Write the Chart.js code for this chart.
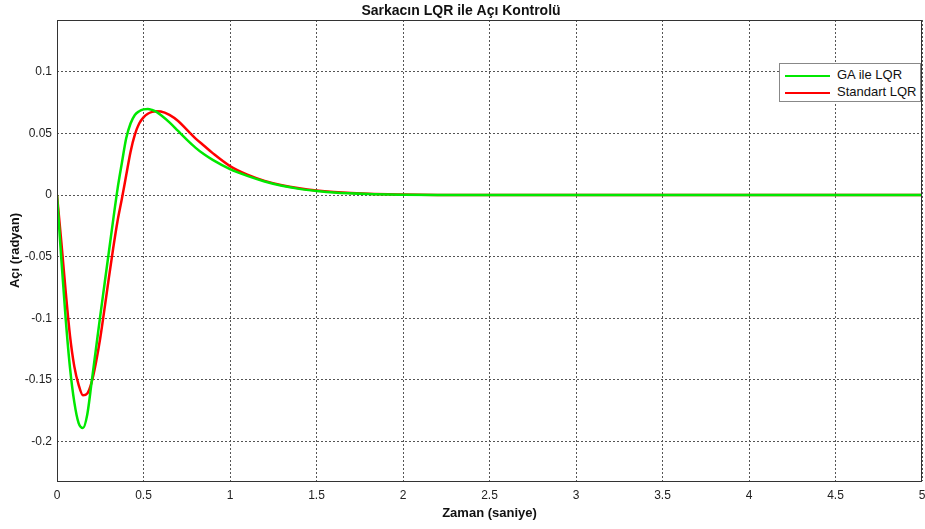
<!DOCTYPE html>
<html>
<head>
<meta charset="utf-8">
<script src="https://cdn.jsdelivr.net/npm/chart.js@4.4.1/dist/chart.umd.min.js"></script>
<style>
  html, body { margin: 0; padding: 0; background: #fff; }
  #wrap { position: relative; width: 925px; height: 529px; }
  #legend {
    position: absolute; left: 779px; top: 63px; width: 140px; height: 37px;
    border: 1px solid #888; background: #fff;
    font: 13px "Liberation Sans", Arial, sans-serif; color: #111;
  }
  #legend div { position: absolute; left: 5px; height: 16px; line-height: 16px; white-space: nowrap; }
  #legend span.swatch { display: inline-block; width: 45px; height: 0; border-top: 2.5px solid; vertical-align: middle; margin-right: 7px; }
</style>
</head>
<body>
<div id="wrap">
  <canvas id="chart" width="925" height="529"></canvas>
  <div id="legend"></div>
</div>
<script>
const chartTitle = "Sarkacın LQR ile Açı Kontrolü";
const xTitle = "Zaman (saniye)";
const yTitle = "Açı (radyan)";

const seriesNames = ["GA ile LQR", "Standart LQR"];
const seriesColors = ["#00e800", "#ff0000"];

const time = [0, 0.025, 0.05, 0.075, 0.1, 0.125, 0.15, 0.175, 0.2, 0.225, 0.25, 0.275, 0.3, 0.325, 0.35, 0.375,
  0.4, 0.425, 0.45, 0.475, 0.5, 0.525, 0.55, 0.575, 0.6, 0.65, 0.7, 0.75, 0.8, 0.85, 0.9, 1.0, 1.1, 1.2, 1.3,
  1.4, 1.5, 1.6, 1.8, 2.0, 2.2, 2.5, 3, 4, 5];

const gaLqr = [0, -0.052, -0.1, -0.14, -0.168, -0.185, -0.189, -0.178, -0.152, -0.125, -0.098, -0.072, -0.046,
  -0.02, 0.005, 0.026, 0.046, 0.058, 0.065, 0.068, 0.0695, 0.0698, 0.069, 0.0675, 0.065, 0.059, 0.052, 0.045,
  0.0385, 0.033, 0.0285, 0.021, 0.0155, 0.011, 0.0075, 0.005, 0.0033, 0.002, 0.0008, 0.0003, 0.0001, 0, 0, 0, 0];

const stdLqr = [0, -0.038, -0.078, -0.114, -0.139, -0.154, -0.1625, -0.161, -0.152, -0.136, -0.116, -0.092, -0.067,
  -0.043, -0.021, -0.003, 0.016, 0.035, 0.049, 0.058, 0.063, 0.066, 0.0675, 0.068, 0.0678, 0.065, 0.06, 0.053,
  0.046, 0.04, 0.034, 0.0235, 0.0165, 0.0115, 0.008, 0.0055, 0.0037, 0.0025, 0.001, 0.0004, 0.0001, 0, 0, 0, 0];

const xTicks = [0, 0.5, 1, 1.5, 2, 2.5, 3, 3.5, 4, 4.5, 5];
const xTickLabels = ["0", "0.5", "1", "1.5", "2", "2.5", "3", "3.5", "4", "4.5", "5"];
const yTicks = [-0.2, -0.15, -0.1, -0.05, 0, 0.05, 0.1];
const yTickLabels = ["-0.2", "-0.15", "-0.1", "-0.05", "0", "0.05", "0.1"];

Chart.defaults.font.family = '"Liberation Sans", Arial, sans-serif';
Chart.defaults.color = "#222";

const toPoints = (values) => time.map((t, i) => ({ x: t, y: values[i] }));

const frame = {
  id: "frame",
  afterDatasetsDraw(chart) {
    const { ctx, chartArea: a } = chart;
    ctx.save();
    ctx.strokeStyle = "#333";
    ctx.lineWidth = 1;
    ctx.strokeRect(a.left + 0.5, a.top + 0.5, a.right - a.left - 1, a.bottom - a.top);
    ctx.restore();
  }
};

const gridStyle = { color: "#555", lineWidth: 1, drawTicks: false };
const borderStyle = { display: false, dash: [2, 2] };

new Chart(document.getElementById("chart"), {
  type: "line",
  data: {
    datasets: [
      { label: seriesNames[0], data: toPoints(gaLqr), borderColor: seriesColors[0], borderWidth: 2.5, pointRadius: 0, cubicInterpolationMode: "monotone" },
      { label: seriesNames[1], data: toPoints(stdLqr), borderColor: seriesColors[1], borderWidth: 2.5, pointRadius: 0, cubicInterpolationMode: "monotone" }
    ]
  },
  options: {
    responsive: false,
    animation: false,
    layout: { padding: { left: 0, right: 3, top: 0, bottom: 0 } },
    plugins: {
      legend: { display: false },
      tooltip: { enabled: false },
      title: {
        display: true, text: chartTitle, color: "#111",
        font: { size: 14, weight: "bold", lineHeight: 1 }, padding: { top: 4, bottom: 2 }
      }
    },
    scales: {
      x: {
        type: "linear", min: 0, max: 5,
        border: { ...borderStyle },
        grid: { ...gridStyle },
        afterBuildTicks: (scale) => { scale.ticks = xTicks.map((v) => ({ value: v })); },
        afterFit: (scale) => { scale.height = 48; scale.paddingLeft = 0; scale.paddingRight = 0; },
        ticks: {
          padding: 7, maxRotation: 0,
          font: { family: '"Liberation Sans Narrow", "Liberation Sans", Arial', size: 12 },
          callback: (v) => xTickLabels[xTicks.indexOf(v)]
        },
        title: { display: true, text: xTitle, color: "#111", font: { size: 13, weight: "bold" }, padding: { top: 4, bottom: 8 } }
      },
      y: {
        type: "linear", min: -0.232, max: 0.142,
        border: { ...borderStyle },
        grid: { ...gridStyle },
        afterBuildTicks: (scale) => { scale.ticks = yTicks.map((v) => ({ value: v })); },
        afterFit: (scale) => { scale.width = 57; },
        ticks: {
          padding: 5, font: { size: 12 },
          callback: (v) => yTickLabels[yTicks.findIndex((t) => Math.abs(t - v) < 1e-9)]
        },
        title: { display: true, text: yTitle, color: "#111", font: { size: 13, weight: "bold" }, padding: { top: 8, bottom: 2 } }
      }
    }
  },
  plugins: [frame]
});

document.getElementById("legend").innerHTML = seriesNames
  .map((name, i) => `<div style="top:${3 + i * 17}px"><span class="swatch" style="border-color:${seriesColors[i]}"></span>${name}</div>`)
  .join("");
</script>
</body>
</html>
